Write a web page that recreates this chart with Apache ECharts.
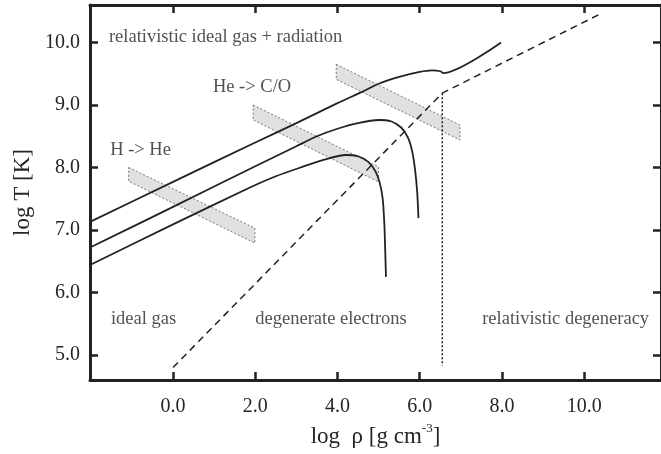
<!DOCTYPE html>
<html>
<head>
<meta charset="utf-8">
<script src="https://cdn.jsdelivr.net/npm/echarts@6/dist/echarts.min.js"></script>
<style>
html, body { margin: 0; padding: 0; background: #fff; }
#main { width: 661px; height: 454px; }
</style>
</head>
<body>
<div id="main"></div>
<script>
var myChart = echarts.init(document.getElementById('main'));

// tick positions
var xTicks = [0, 2, 4, 6, 8, 10];
var yTicks = [5, 6, 7, 8, 9, 10];

// evolution tracks [log rho, log T]
var track1 = [[-2.02, 7.13], [0, 7.77], [2, 8.40], [3, 8.71], [4, 9.03], [4.6, 9.21], [5.0, 9.34],
    [5.5, 9.45], [6.0, 9.53], [6.3, 9.555], [6.5, 9.54], [6.58, 9.51], [7.98, 10.0]];
var track2 = [[-2.02, 6.72], [0, 7.37], [2, 8.02], [3, 8.34], [3.5, 8.50], [4.0, 8.62], [4.5, 8.71],
    [5.0, 8.76], [5.3, 8.74], [5.55, 8.64], [5.72, 8.47], [5.82, 8.25], [5.89, 7.95], [5.94, 7.6], [5.97, 7.19]];
var track3 = [[-2.02, 6.44], [0, 7.09], [1.87, 7.68], [2.5, 7.86], [3.1, 8.00], [3.7, 8.13], [4.2, 8.20],
    [4.5, 8.18], [4.75, 8.09], [4.93, 7.93], [5.03, 7.75], [5.1, 7.5], [5.14, 7.1], [5.16, 6.7], [5.18, 6.25]];

// regime boundaries
var degLine = [[0, 4.8], [6.55, 9.19], [10.43, 10.47]];
var relLine = [[6.55, 9.19], [6.55, 4.83]];

// burning bands: [x left, top, bottom, x right, top, bottom]
var bands = [
    [-1.08, 8.0, 7.78, 1.99, 7.03, 6.79],
    [1.95, 9.0, 8.76, 5.0, 8.01, 7.77],
    [3.97, 9.65, 9.41, 6.98, 8.68, 8.44]
];

// annotations
var noteText = ['relativistic ideal gas + radiation', 'He -> C/O', 'H -> He',
    'ideal gas', 'degenerate electrons', 'relativistic degeneracy'];
var noteX = [-1.56, 0.97, -1.53, -1.51, 2.0, 7.52];
var noteY = [10.08, 9.28, 8.28, 5.57, 5.57, 5.57];

var serif = 'Liberation Serif';
var ink = '#222';
var txt = '#262626';

var notes = noteText.map(function (t, i) {
    return { value: [noteX[i], noteY[i]], label: { formatter: t } };
});

function lineSeries(data, type, smooth) {
    return {
        type: 'line',
        data: data,
        showSymbol: false,
        smooth: smooth,
        z: 3,
        lineStyle: { color: ink, width: 1.8, type: type }
    };
}

function tickAxis(pos, ticks, labels) {
    return {
        type: 'value',
        position: pos,
        axisLine: { show: true, onZero: false, lineStyle: { color: ink, width: 3 } },
        axisTick: { show: true, inside: true, length: 8, customValues: ticks, lineStyle: { color: ink, width: 2.5 } },
        axisLabel: { show: labels, customValues: ticks, formatter: function (v) { return v.toFixed(1); },
            fontFamily: serif, fontSize: 20, color: txt },
        splitLine: { show: false }
    };
}

var xBottom = tickAxis('bottom', xTicks, true);
xBottom.axisLabel.margin = 17;
xBottom.name = '{a|log  \u03c1 [g cm}{s|-3}{a|]}';
xBottom.nameLocation = 'middle';
xBottom.nameGap = 38;
xBottom.nameTextStyle = {
    rich: {
        a: { fontFamily: serif, fontSize: 23, color: txt, lineHeight: 30 },
        s: { fontFamily: serif, fontSize: 13, color: txt, verticalAlign: 'top', lineHeight: 30, padding: [0, 0, 10, 0] }
    }
};
var xTop = tickAxis('top', xTicks, false);

var yLeft = tickAxis('left', yTicks, true);
yLeft.axisLabel.margin = 10;
yLeft.name = 'log T [K]';
yLeft.nameLocation = 'middle';
yLeft.nameGap = 56;
yLeft.nameTextStyle = { fontFamily: serif, fontSize: 23, color: txt };
var yRight = tickAxis('right', yTicks, false);

[xBottom, xTop].forEach(function (a) { a.min = -2.02; a.max = 11.87; });
[yLeft, yRight].forEach(function (a) { a.min = 4.6; a.max = 10.6; });

option = {
    animation: false,
    backgroundColor: '#fff',
    grid: { left: 90, right: 0, top: 5, bottom: 74 },
    xAxis: [xBottom, xTop],
    yAxis: [yLeft, yRight],
    series: [
        {
            type: 'custom',
            z: 1,
            data: bands,
            renderItem: function (params, api) {
                var p = [
                    api.coord([api.value(0), api.value(1)]),
                    api.coord([api.value(3), api.value(4)]),
                    api.coord([api.value(3), api.value(5)]),
                    api.coord([api.value(0), api.value(2)])
                ];
                return {
                    type: 'polygon',
                    shape: { points: p },
                    style: { fill: '#e0e0e0', stroke: '#777', lineWidth: 1, lineDash: [2, 2] }
                };
            }
        },
        lineSeries(track1, 'solid', 0.25),
        lineSeries(track2, 'solid', 0.25),
        lineSeries(track3, 'solid', 0.25),
        {
            type: 'line', data: degLine, showSymbol: false, z: 2,
            lineStyle: { color: ink, width: 1.5, type: [7, 5] }
        },
        {
            type: 'line', data: relLine, showSymbol: false, z: 2,
            lineStyle: { color: ink, width: 1.5, type: [2, 2] }
        },
        {
            type: 'scatter',
            data: notes,
            symbolSize: 0,
            z: 4,
            label: {
                show: true, position: [0, 0], align: 'left', verticalAlign: 'middle',
                fontFamily: serif, fontSize: 18.5, color: txt
            }
        }
    ]
};

myChart.setOption(option);
</script>
</body>
</html>
